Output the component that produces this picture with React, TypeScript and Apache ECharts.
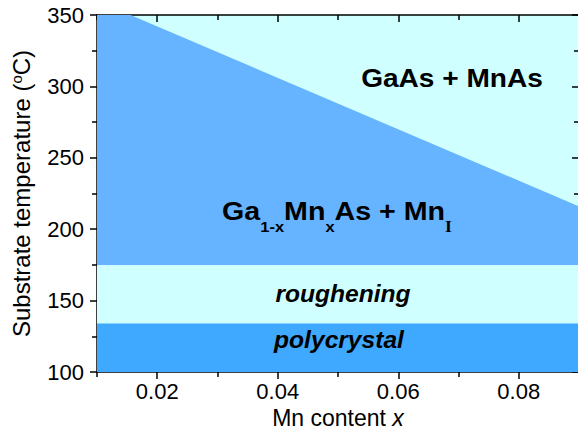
import React, { useEffect, useRef } from "react";
import * as echarts from "echarts";

// Data (x = Mn content, y = substrate temperature in °C)
const xRange = [0.01, 0.09];
const yRange = [100, 350];
const phaseBoundary: [number, number][] = [
  [0.01, 360],
  [0.09, 216],
];
const rougheningTop = 175;
const polycrystalTop = 134;
const xTickLabels = [0.02, 0.04, 0.06, 0.08];
const yTicks = [100, 150, 200, 250, 300, 350];

const FONT = "'Liberation Sans', Arial, Helvetica, sans-serif";

export default function App() {
  const ref = useRef<HTMLDivElement>(null);
  useEffect(() => {
    if (!ref.current) return;
    const chart = echarts.init(ref.current, undefined, { renderer: "svg" });
    const axisLine = { show: true, lineStyle: { color: "#000", width: 1.5 } };
    const tickStyle = { color: "#000", width: 1.5 };
    const flat = (v: number): [number, number][] => [
      [xRange[0], v],
      [xRange[1], v],
    ];
    chart.setOption({
      animation: false,
      backgroundColor: "#fff",
      grid: {
        left: 97,
        right: -1,
        top: 15,
        bottom: 58,
        show: true,
        backgroundColor: "#d0ffff",
        borderWidth: 0,
        containLabel: false,
        outerBoundsMode: "none",
      },
      xAxis: [
        {
          type: "value",
          min: xRange[0],
          max: xRange[1],
          interval: 0.02,
          position: "bottom",
          axisLine,
          axisTick: { show: true, length: 5, lineStyle: tickStyle },
          minorTick: { show: true, splitNumber: 2, length: 7, lineStyle: tickStyle },
          splitLine: { show: false },
          axisLabel: {
            fontFamily: FONT,
            fontSize: 22,
            color: "#000",
            margin: 8,
            customValues: xTickLabels,
            formatter: (v: number) => v.toFixed(2),
          },
          name: "{n|Mn content }{i|x}",
          nameLocation: "middle",
          nameGap: 28,
          nameTextStyle: {
            rich: {
              n: { fontFamily: FONT, fontSize: 23, color: "#000" },
              i: { fontFamily: FONT, fontSize: 23, color: "#000", fontStyle: "italic" },
            },
          },
        },
        {
          type: "value",
          min: xRange[0],
          max: xRange[1],
          interval: 0.02,
          position: "top",
          axisLine,
          axisTick: { show: true, inside: true, length: 5, lineStyle: tickStyle },
          minorTick: { show: true, splitNumber: 2, length: 7, lineStyle: tickStyle },
          axisLabel: { show: false },
          splitLine: { show: false },
        },
      ],
      yAxis: [
        {
          type: "value",
          min: yRange[0],
          max: yRange[1],
          interval: 50,
          position: "left",
          axisLine,
          axisTick: { show: true, length: 7, lineStyle: tickStyle },
          minorTick: { show: true, splitNumber: 2, length: 5, lineStyle: tickStyle },
          splitLine: { show: false },
          axisLabel: {
            fontFamily: FONT,
            fontSize: 22,
            color: "#000",
            margin: 13,
            formatter: (v: number) => (yTicks.includes(v) ? String(v) : ""),
          },
          name: "{n|Substrate temperature (}{s|o}{n|C)}",
          nameLocation: "middle",
          nameGap: 63,
          nameRotate: 90,
          nameTextStyle: {
            rich: {
              n: { fontFamily: FONT, fontSize: 24, color: "#000" },
              s: { fontFamily: FONT, fontSize: 15, color: "#000", padding: [0, 0, 10, 0] },
            },
          },
        },
        {
          type: "value",
          min: yRange[0],
          max: yRange[1],
          interval: 50,
          position: "right",
          axisLine,
          axisTick: { show: true, inside: true, length: 7, lineStyle: tickStyle },
          minorTick: { show: true, splitNumber: 2, length: 5, lineStyle: tickStyle },
          axisLabel: { show: false },
          splitLine: { show: false },
        },
      ],
      series: [
        {
          type: "line",
          data: phaseBoundary,
          showSymbol: false,
          clip: true,
          lineStyle: { width: 0 },
          areaStyle: { color: "#66b3ff", opacity: 1, origin: "start" },
        },
        {
          type: "line",
          data: flat(rougheningTop),
          showSymbol: false,
          clip: true,
          lineStyle: { width: 0 },
          areaStyle: { color: "#d0ffff", opacity: 1, origin: "start" },
        },
        {
          type: "line",
          data: flat(polycrystalTop),
          showSymbol: false,
          clip: true,
          lineStyle: { width: 0 },
          areaStyle: { color: "#3fa9ff", opacity: 1, origin: "start" },
        },
      ],
      graphic: [
        {
          type: "text",
          x: 452,
          y: 78,
          scaleX: 1.08,
          z: 100,
          style: {
            text: "GaAs + MnAs",
            fontFamily: FONT,
            fontWeight: "bold",
            fontSize: 26,
            fill: "#000",
            align: "center",
            verticalAlign: "middle",
          },
        },
        {
          type: "text",
          x: 337,
          y: 219,
          scaleX: 1.1,
          z: 100,
          style: {
            text: "{b|Ga}{s|1-x}{b|Mn}{s|x}{b|As + Mn}{r|I}",
            align: "center",
            verticalAlign: "middle",
            rich: {
              b: { fontFamily: FONT, fontWeight: "bold", fontSize: 26, fill: "#000", padding: [0, 0, 16, 0] },
              s: { fontFamily: FONT, fontWeight: "bold", fontSize: 15, fill: "#000", padding: [16, 0, 0, 0] },
              r: { fontFamily: "'Liberation Serif', 'Times New Roman', serif", fontWeight: "bold", fontSize: 16, fill: "#000", padding: [16, 0, 0, 0] },
            },
          },
        },
        {
          type: "text",
          x: 343,
          y: 294,
          scaleX: 1.07,
          z: 100,
          style: {
            text: "roughening",
            fontFamily: FONT,
            fontWeight: "bold",
            fontStyle: "italic",
            fontSize: 23,
            fill: "#000",
            align: "center",
            verticalAlign: "middle",
          },
        },
        {
          type: "text",
          x: 339,
          y: 340,
          scaleX: 1.07,
          z: 100,
          style: {
            text: "polycrystal",
            fontFamily: FONT,
            fontWeight: "bold",
            fontStyle: "italic",
            fontSize: 23,
            fill: "#000",
            align: "center",
            verticalAlign: "middle",
          },
        },
      ],
    });
    return () => chart.dispose();
  }, []);
  return <div ref={ref} style={{ width: 578, height: 430, position: "absolute", left: 0, top: 0 }} />;
}
